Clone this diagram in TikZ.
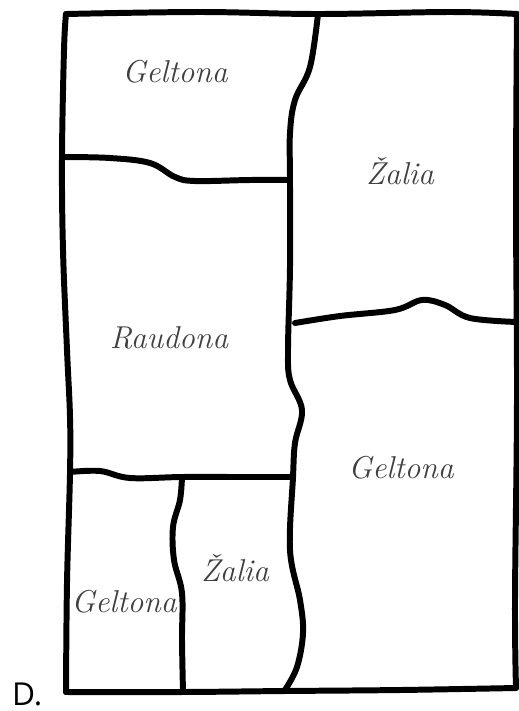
\documentclass[tikz,border=0pt]{standalone}
\usepackage{fontspec}
\newfontfamily\letterfont{Open Sans}
\usetikzlibrary{positioning}

\tikzset{
  border/.style={line width=3.4pt, line cap=round, line join=round},
  colourname/.style={font=\fontsize{18}{21}\selectfont\itshape, text=black!75}
}

\begin{document}
\begin{tikzpicture}[x=0.02cm, y=-0.02cm]
		\useasboundingbox (0,0) rectangle (519,711);

		% Corners of the sheet
		\coordinate (NW) at (66,14);
		\coordinate (NE) at (517,14);
		\coordinate (SE) at (516,688);
		\coordinate (SW) at (66,692);

		% Outer frame, one side at a time
		\draw[border] plot[smooth, tension=0.6] coordinates {(NW) (200,12) (318,14) (450,12) (NE)};
		\draw[border] plot[smooth, tension=0.6] coordinates {(NE) (516,200) (517,400) (515,600) (SE)};
		\draw[border] plot[smooth, tension=0.6] coordinates {(SE) (400,690) (285,691) (183,692) (SW)};
		\draw[border] plot[smooth, tension=0.6] coordinates {(SW) (67,583) (70,473) (70,417) (67,350) (63,250) (62,157) (64,50) (NW)};

		% Long wavy divider between left and right columns
		\coordinate (T) at (318,14);
		\coordinate (B) at (285,690);
		\draw[border] plot[smooth, tension=0.6] coordinates {(T) (310,67) (295,100) (290,133) (290,180) (290,267)
			(288,350) (290,380) (302,410) (295,443) (293,477) (290,550) (300,600) (303,633) (297,667) (B)};

		% Upper left cross line (with a dip)
		\draw[border] plot[smooth, tension=0.6] coordinates {(63,157) (110,158) (150,163) (175,177) (195,181) (250,180) (290,180)};

		% Right cross line (with a bump)
		\draw[border] plot[smooth, tension=0.6] coordinates {(295,323) (340,316) (395,310) (422,300) (445,305) (470,318) (517,322)};

		% Lower left cross line
		\draw[border] plot[smooth, tension=0.6] coordinates {(70,472) (100,471) (130,478) (182,477) (240,477) (293,477)};

		% Small divider in the bottom left corner
		\draw[border] plot[smooth, tension=0.6] coordinates {(182,477) (180,500) (173,527) (174,560) (182,593) (182,640) (183,692)};

		% Colour names
		\node[colourname] (g1) at (175,72)  {Geltona};
		\node[colourname] (z1) at (400,171) {Žalia};
		\node[colourname] (r1) at (169,338) {Raudona};
		\node[colourname] (g2) at (401,468) {Geltona};
		\node[colourname] (z2) at (235,568) {Žalia};
		\node[colourname] (g3) at (124,602) {Geltona};

		% Answer letter
		\node[font=\letterfont\fontsize{18}{20}\selectfont, anchor=base west] (D) at (6,705) {D.};
	\end{tikzpicture}
\end{document}
